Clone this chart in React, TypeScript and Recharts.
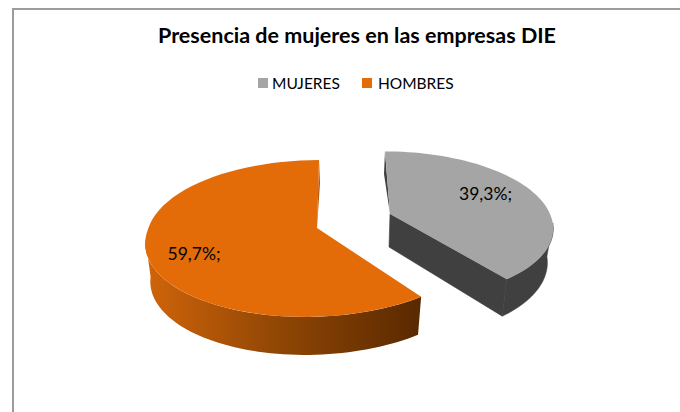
import React from "react";
import { PieChart, Pie, Legend, Cell } from "recharts";

const categories = ["MUJERES", "HOMBRES"];
const shares = [39.3, 59.7];
const labels = ["39,3%;", "59,7%;"];
const colors = ["#a5a5a5", "#e36c09"];
const rows = categories.map((name, i) => ({ name, value: shares[i] }));

const FONT = "Lato, 'Open Sans', sans-serif";
const TOTAL_W = 680;
const TOTAL_H = 412;

type G = { x: number; y: number; a: number; b: number; k: number; shearUp: number; shearDown: number; bs: number; bx: number; d0: number; d1: number; lx: number; ly: number; };
const geom: G[] = [
  { x: 390, y: 214, a: 160, b: 72, k: 0.15, shearUp: 0.08, shearDown: 0.11, bs: 0.97, bx: -1, d0: 33, d1: 0.06, lx: 485.5, ly: 200 },
  { x: 317, y: 228, a: 168.5, b: 77, k: 0.134, shearUp: -0.03, shearDown: -0.14, bs: 0.97, bx: 0, d0: 38, d1: 0, lx: 194, ly: 260 },
];

const rad = (d: number) => (d * Math.PI) / 180;
function top(g: G, phi: number) {
  const s = -Math.cos(rad(phi));
  const w = 1 - g.k * s;
  const X = (g.a * Math.sin(rad(phi))) / w;
  const Y = (g.b * s) / w;
  return { dx: X + (Y < 0 ? g.shearUp : g.shearDown) * Y, dy: Y };
}
const topPt = (g: G, phi: number) => {
  const p = top(g, phi);
  return [g.x + p.dx, g.y + p.dy];
};
const botPt = (g: G, phi: number) => {
  const p = top(g, phi);
  return [g.x + g.bx + p.dx * g.bs, g.y + p.dy + g.d0 + p.dy * g.d1];
};
function sweep(fn: (g: G, p: number) => number[], g: G, from: number, to: number) {
  const n = 60;
  const out: number[][] = [];
  for (let i = 0; i <= n; i++) out.push(fn(g, from + ((to - from) * i) / n));
  return out;
}
const toPath = (pts: number[][]) => "M" + pts.map((p) => p[0].toFixed(2) + " " + p[1].toFixed(2)).join("L") + "Z";

function Slice3D(props: any) {
  const { startAngle, endAngle, index, fill } = props;
  const idx = index ?? (props.name === categories[0] ? 0 : 1);
  const g = geom[idx];
  const from = 90 - startAngle;
  const to = 90 - endAngle;
  const apex = [g.x, g.y];
  const face = toPath([apex, ...sweep(topPt, g, from, to)]);
  if (idx === 0) {
    const topRim = sweep(topPt, g, 97, to);
    const botRim = sweep(botPt, g, to, 97);
    const apexBottom = [g.x + g.bx, g.y + g.d0];
    return (
      <g>
        <path d={toPath([...topRim, ...botRim])} fill="#404040" stroke="#404040" strokeWidth={0.6} />
        <path d={toPath([apex, topPt(g, to), botPt(g, to), apexBottom])} fill="#404040" stroke="#404040" strokeWidth={0.6} />
        <path d={toPath([apex, topPt(g, from), [g.x - 6, g.y - 40]])} fill="#404040" />
        <path d={face} fill={fill} />
      </g>
    );
  }
  const topRim = sweep(topPt, g, from, 262);
  const botRim = sweep(botPt, g, 262, from);
  return (
    <g>
      <defs>
        <linearGradient id="sideOrange" gradientUnits="userSpaceOnUse" x1="147" y1="0" x2="421" y2="0">
          <stop offset="0" stopColor="#cf640a" />
          <stop offset="0.5" stopColor="#8e4504" />
          <stop offset="1" stopColor="#592900" />
        </linearGradient>
      </defs>
      <path d={toPath([...topRim, ...botRim])} fill="url(#sideOrange)" />
      <path d={toPath([apex, topPt(g, 360), [g.x + 3, g.y - 45]])} fill="#b65507" />
      <path d={face} fill={fill} />
    </g>
  );
}

const sliceLabel = (p: any) => {
  const i = p.index;
  return (
    <text x={geom[i].lx} y={geom[i].ly} textAnchor="middle" fontFamily={FONT} fontSize={17.5} fill="#000">
      {labels[i]}
    </text>
  );
};

const legendStyle: React.CSSProperties = { position: "absolute", top: 73, left: 258, width: 210, fontFamily: FONT, fontSize: 15.5 };

const legendContent = (p: any) => (
  <div style={{ display: "flex", alignItems: "center", lineHeight: "20px", color: "#000" }}>
    {categories.map((c, i) => {
      const item = (p.payload || []).find((e: any) => e.value === c);
      return (
        <span key={c} style={{ display: "flex", alignItems: "center", marginRight: 22 }}>
          <span style={{ display: "inline-block", width: 10, height: 10, background: item ? item.color : colors[i], marginRight: i === 0 ? 4 : 6 }} />
          {c}
        </span>
      );
    })}
  </div>
);

export default function App() {
  return (
    <div style={{ position: "fixed", left: 0, top: 0, width: TOTAL_W, height: TOTAL_H, background: "#fff", overflow: "hidden" }}>
      <div style={{ position: "absolute", left: 12, top: 8, width: TOTAL_W, height: TOTAL_H, borderLeft: "2px solid #9c9c9c", borderTop: "2px solid #9c9c9c" }} />
      <div style={{ position: "absolute", left: 0, top: 0 }}>
        <PieChart width={TOTAL_W} height={TOTAL_H}>
          <text x={357} y={43} textAnchor="middle" fontFamily={FONT} fontSize={21.5} fontWeight={700} fill="#000">
            Presencia de mujeres en las empresas DIE
          </text>
          <Legend
            layout="horizontal"
            align="left"
            verticalAlign="top"
            wrapperStyle={legendStyle}
            content={legendContent}
          />
          <Pie
            data={rows}
            dataKey="value"
            nameKey="name"
            cx={340}
            cy={240}
            outerRadius={120}
            startAngle={90}
            endAngle={-270}
            paddingAngle={0}
            stroke="none"
            isAnimationActive={false}
            labelLine={false}
            label={sliceLabel}
            shape={Slice3D}
          >
            {rows.map((r, i) => (
              <Cell key={r.name} fill={colors[i]} />
            ))}
          </Pie>
        </PieChart>
      </div>
    </div>
  );
}
